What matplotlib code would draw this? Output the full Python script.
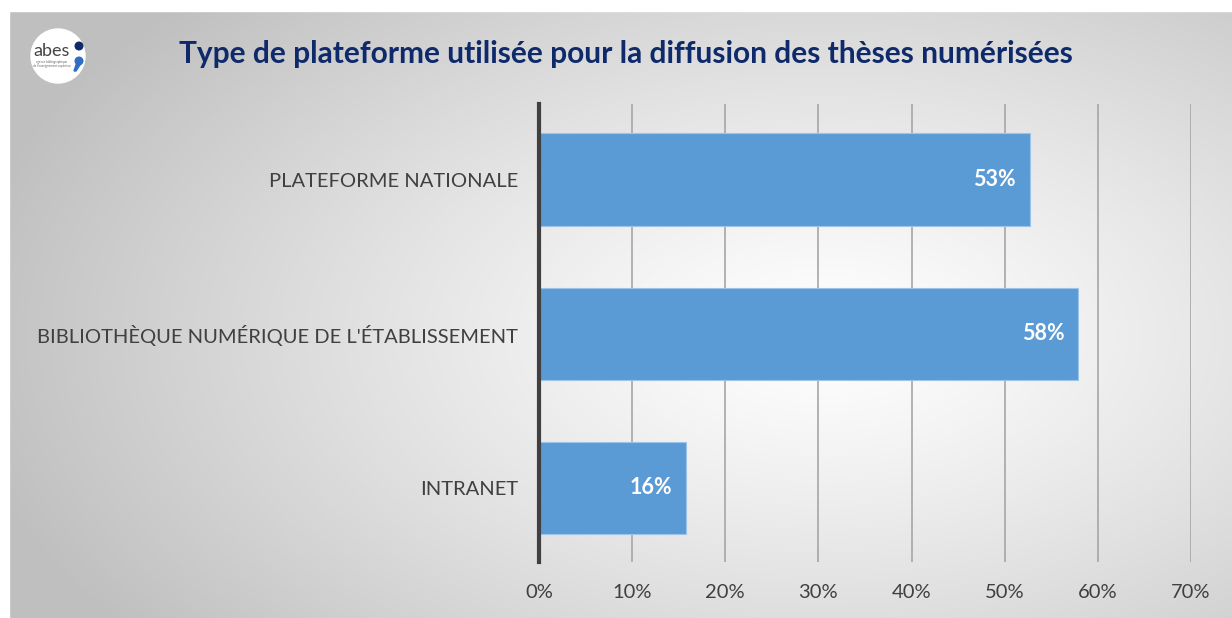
import numpy as np
import matplotlib.pyplot as plt
from matplotlib.patches import Circle, Rectangle, Polygon

# Data
categories = ["PLATEFORME NATIONALE",
              "BIBLIOTHÈQUE NUMÉRIQUE DE L'ÉTABLISSEMENT",
              "INTRANET"]
values = [52.7, 57.9, 15.8]
labels = ["53%", "58%", "16%"]
ticks = [0, 10, 20, 30, 40, 50, 60, 70]

title = "Type de plateforme utilisée pour la diffusion des thèses numérisées"

plt.rcParams['font.family'] = ['Lato', 'DejaVu Sans']

W, H = 1232, 618
fig = plt.figure(figsize=(W / 100, H / 100), dpi=100)
fig.patch.set_facecolor("white")

# Background panel with a radial grey gradient
bg = fig.add_axes([0, 0, 1, 1])
bg.set_xlim(0, W)
bg.set_ylim(H, 0)
bg.axis("off")
yy, xx = np.mgrid[0:H, 0:W]
d = np.sqrt(((xx - 820) / 880.0) ** 2 + ((yy - 330) / 500.0) ** 2)
d = np.clip(d, 0, 1)
shade = 1.0 - 0.25 * d ** 1.2
img = np.dstack([shade, shade, shade])
bg.imshow(img, extent=(9, W, H, 11), interpolation="bilinear", zorder=0)
bg.add_patch(Rectangle((0, 0), W, 11, color="white", zorder=1))
bg.add_patch(Rectangle((0, 0), 9, H, color="white", zorder=1))

# Logo
bg.add_patch(Circle((58, 56), 27, color="white", zorder=2))
bg.text(52, 51, "abes", fontsize=13, color="#444444", ha="center", va="center", zorder=3)
bg.text(52, 64, "agence bibliographique\nde l'enseignement supérieur", fontsize=2.2,
        color="#666666", ha="center", va="center", linespacing=1.0, zorder=3)
bg.add_patch(Circle((79, 46), 3.8, color="#0f2a6b", zorder=3))
bg.add_patch(Circle((79, 61), 3.8, color="#2e6fc4", zorder=3))
bg.add_patch(Polygon([(82.5, 61), (78, 59), (74, 71), (76, 71)], closed=True,
                     color="#2e6fc4", zorder=3))

# Title
fig.text(0.508, 0.913, title, fontsize=21.5, fontweight="bold", color="#0f2a6b",
         ha="center", va="center")

# Chart
ax = fig.add_axes([539 / W, 1 - 562 / H, (1191 - 539) / W, (562 - 104) / H])
ax.patch.set_alpha(0)
y = np.arange(len(categories))
ax.barh(y, values, height=0.6, color="#5b9bd5", edgecolor="#9dc3e6", linewidth=0.8, zorder=2)
ax.set_xlim(0, 70)
ax.set_ylim(2.48, -0.49)
ax.set_xticks(ticks)
ax.set_xticklabels([f"{t}%" for t in ticks], fontsize=14.5, color="#404040")
ax.set_yticks(y)
ax.set_yticklabels(categories, fontsize=14.5, color="#404040")
ax.tick_params(axis="both", length=0)
ax.tick_params(axis="x", pad=16)
ax.tick_params(axis="y", pad=15)
ax.grid(axis="x", color="#a6a6a6", linewidth=1.2, zorder=1)
for s in ["top", "right", "bottom"]:
    ax.spines[s].set_visible(False)
ax.spines["left"].set_color("#404040")
ax.spines["left"].set_linewidth(3)
ax.spines["left"].set_zorder(3)

for yi, v, lab in zip(y, values, labels):
    ax.text(v - 1.5, yi, lab, fontsize=15.5, fontweight="bold", color="white",
            ha="right", va="center", zorder=4)

fig.savefig("out.png", dpi=100)
